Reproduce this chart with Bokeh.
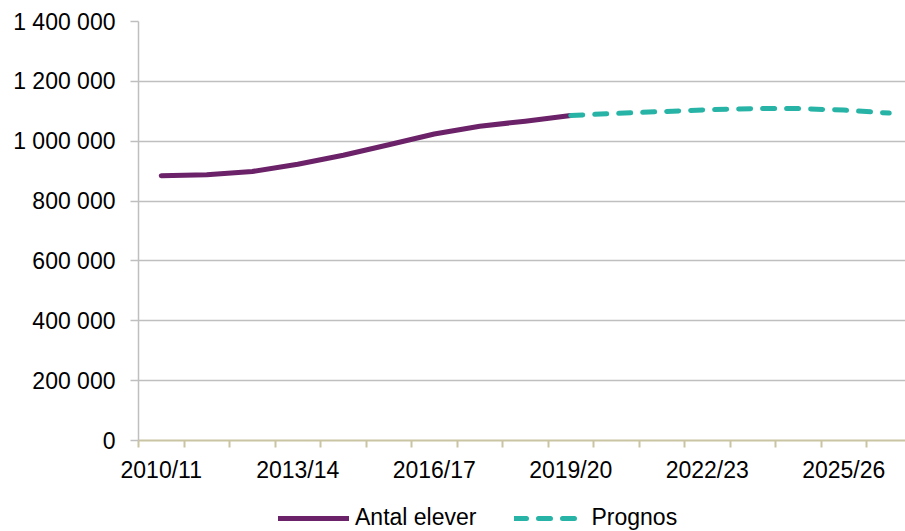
from bokeh.plotting import figure
from bokeh.models import Range1d, FixedTicker, Legend, LegendItem
from bokeh.layouts import column
from bokeh.embed import file_html
from bokeh.resources import INLINE

categories = ["2010/11", "2011/12", "2012/13", "2013/14", "2014/15", "2015/16",
              "2016/17", "2017/18", "2018/19", "2019/20", "2020/21", "2021/22",
              "2022/23", "2023/24", "2024/25", "2025/26", "2026/27"]

elever_years = categories[:10]
elever = [885000, 888000, 899000, 923000, 953000, 988000, 1024000, 1050000, 1067000, 1086000]

prognos_years = categories[9:]
prognos = [1086000, 1093000, 1099000, 1105000, 1109000, 1109000, 1104000, 1094000]

y_ticks = [0, 200000, 400000, 600000, 800000, 1000000, 1200000, 1400000]
y_labels = ["0", "200 000", "400 000", "600 000", "800 000", "1 000 000", "1 200 000", "1 400 000"]
x_label_years = ["2010/11", "2013/14", "2016/17", "2019/20", "2022/23", "2025/26"]
series_names = ["Antal elever", "Prognos"]

FONT = "Liberation Sans"
FS = "23px"
PURPLE = "#6C2268"
TEAL = "#27B4A6"
GRAY = "#BFBFBF"
TAN = "#C9C4A2"

def pos(c):
    return categories.index(c) + 0.5

elever_x = [pos(c) for c in elever_years]
prognos_x = [pos(c) for c in prognos_years]

p = figure(width=905, height=503, output_backend="svg", toolbar_location=None,
           x_range=Range1d(0, 16.857), y_range=Range1d(0, 1400000),
           min_border_left=138, min_border_right=0, min_border_top=21, min_border_bottom=63)
p.outline_line_color = None
p.background_fill_color = "white"
p.border_fill_color = "white"

p.line(elever_x, elever, line_color=PURPLE, line_width=5, line_cap="round", line_join="round")
p.line(prognos_x, prognos, line_color=TEAL, line_width=5, line_cap="round", line_join="round",
       line_dash="12 12")

# x axis
xa = p.xaxis[0]
xa.ticker = FixedTicker(ticks=[pos(c) for c in x_label_years],
                        minor_ticks=list(range(0, len(categories) + 1)))
xa.major_label_overrides = {pos(c): c for c in x_label_years}
xa.major_tick_line_color = None
xa.major_tick_out = 0
xa.major_tick_in = 0
xa.minor_tick_line_color = TAN
xa.minor_tick_line_width = 2
xa.minor_tick_out = 7
xa.minor_tick_in = 0
xa.axis_line_color = TAN
xa.axis_line_width = 2
xa.major_label_text_font = FONT
xa.major_label_text_font_size = FS
xa.major_label_text_color = "black"
xa.major_label_standoff = 9

# y axis
ya = p.yaxis[0]
ya.ticker = FixedTicker(ticks=y_ticks, minor_ticks=[])
ya.major_label_overrides = {t: l for t, l in zip(y_ticks, y_labels)}
ya.axis_line_color = GRAY
ya.axis_line_width = 1.5
ya.major_tick_line_color = GRAY
ya.major_tick_line_width = 1.5
ya.major_tick_out = 8
ya.major_tick_in = 0
ya.minor_tick_line_color = None
ya.major_label_text_font = FONT
ya.major_label_text_font_size = FS
ya.major_label_text_color = "black"
ya.major_label_standoff = 15

p.xgrid.grid_line_color = None
p.ygrid.grid_line_color = GRAY
p.ygrid.grid_line_width = 1.5
p.ygrid.ticker = FixedTicker(ticks=y_ticks)

# legend strip underneath (its series lie outside its own view; only the key shows)
lg = figure(width=905, height=28, output_backend="svg", toolbar_location=None,
            x_range=Range1d(0, 1), y_range=Range1d(0, 1),
            x_axis_location=None, y_axis_location=None,
            min_border_left=0, min_border_right=0, min_border_top=0, min_border_bottom=0)
lg.outline_line_color = None
lg.xgrid.visible = False
lg.ygrid.visible = False
k1 = lg.line(elever_x, elever, line_color=PURPLE, line_width=5, line_cap="round")
k2 = lg.line(prognos_x, prognos, line_color=TEAL, line_width=5, line_cap="round",
             line_dash="12 12")

legend = Legend(items=[LegendItem(label=series_names[0], renderers=[k1]),
                       LegendItem(label=series_names[1], renderers=[k2])],
                orientation="horizontal", location=(140, 0))
legend.padding = 0
legend.margin = 0
legend.border_line_color = None
legend.background_fill_alpha = 0
legend.glyph_width = 71
legend.glyph_height = 26
legend.label_height = 26
legend.label_standoff = 6
legend.spacing = 38
legend.label_text_font = FONT
legend.label_text_font_size = FS
legend.label_text_color = "black"
lg.add_layout(legend, "center")

layout = column(p, lg, spacing=0)
open("out.html", "w").write(file_html(layout, INLINE))
